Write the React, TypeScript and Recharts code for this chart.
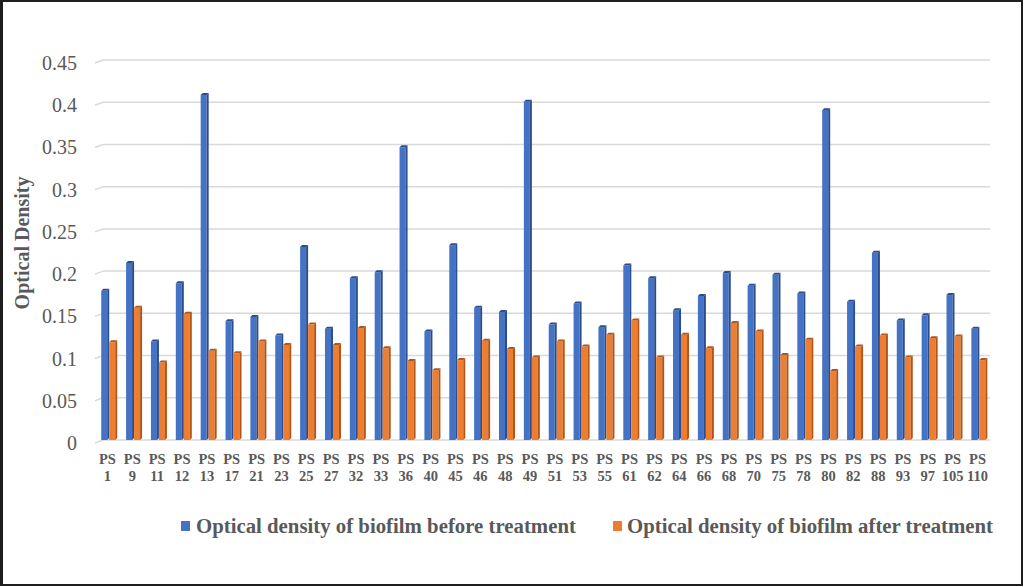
import React from 'react';
import { BarChart, Bar, XAxis, YAxis, CartesianGrid } from 'recharts';

const categories = ['1','9','11','12','13','17','21','23','25','27','32','33','36','40','45','46','48','49','51','53','55','61','62','64','66','68','70','75','78','80','82','88','93','97','105','110'];
const beforeValues = [0.179,0.212,0.119,0.188,0.411,0.143,0.148,0.126,0.231,0.134,0.194,0.201,0.349,0.131,0.233,0.159,0.154,0.403,0.139,0.164,0.136,0.209,0.194,0.156,0.173,0.200,0.185,0.198,0.176,0.393,0.166,0.224,0.144,0.150,0.174,0.134];
const afterValues = [0.118,0.159,0.094,0.152,0.108,0.105,0.119,0.115,0.139,0.115,0.135,0.111,0.096,0.085,0.097,0.120,0.110,0.100,0.119,0.113,0.127,0.144,0.100,0.127,0.111,0.141,0.131,0.103,0.121,0.084,0.113,0.126,0.100,0.123,0.125,0.097];
const yTicks = [0,0.05,0.1,0.15,0.2,0.25,0.3,0.35,0.4,0.45];
const seriesNames = ['Optical density of biofilm before treatment','Optical density of biofilm after treatment'];

const data = categories.map((c, i) => ({ name: 'PS ' + c, num: c, before: beforeValues[i], after: afterValues[i] }));

const FONT = '"Liberation Serif", "Times New Roman", serif';
const BLUE = '#4472C4';
const BLUE_DARK = '#2B4D8C';
const ORANGE = '#ED7D31';
const ORANGE_DARK = '#B0561B';
const GRID = '#D9D9D9';

const make3D = (base: string, dark: string) => (props: any) => {
  const { width, height } = props;
  const x = props.x + 1.5;
  const y = props.y;
  if (height == null || height <= 0) return null;
  const d = 2;
  const fw = width - d;
  return (
    <g>
      <rect x={x} y={y + d} width={fw} height={height - d} fill={base} />
      <polygon points={`${x + fw},${y + d} ${x + width},${y} ${x + width},${y + height - d} ${x + fw},${y + height}`} fill={dark} />
      <polygon points={`${x},${y + d} ${x + d},${y} ${x + width},${y} ${x + fw},${y + d}`} fill={dark} />
    </g>
  );
};

const XTick = (props: any) => {
  const { x, y, payload } = props;
  const item = data[payload.index] || data.find(d => d.name === payload.value);
  const num = item ? item.num : '';
  return (
    <g>
      <text x={x} y={y + 16} textAnchor="middle" fontFamily={FONT} fontSize={14.5} fontWeight="bold" fill="#595959">PS</text>
      <text x={x} y={y + 33} textAnchor="middle" fontFamily={FONT} fontSize={14.5} fontWeight="bold" fill="#595959">{num}</text>
    </g>
  );
};

const YTick = (props: any) => {
  const { x, y, payload } = props;
  return (
    <text x={x} y={y + 3} textAnchor="end" dominantBaseline="central" fontFamily={FONT} fontSize={20} fill="#595959">{payload.value}</text>
  );
};

const GridLine = (p: any) => {
  const s = 8;
  return (
    <g key={`g-${p.y1}`}>
      <line x1={p.x1} y1={p.y1 + 3} x2={p.x1 + s} y2={p.y1} stroke={GRID} strokeWidth={1.5} />
      <line x1={p.x1 + s} y1={p.y1} x2={p.x2} y2={p.y2} stroke={GRID} strokeWidth={1.5} />
    </g>
  );
};

const LegendBox = () => (
  <div style={{ position: 'absolute', left: 0, top: 511, width: 1018, height: 30, fontFamily: FONT, fontWeight: 'bold', fontSize: 20.8, color: '#595959' }}>
    <div style={{ position: 'absolute', left: 178, top: 8, width: 9, height: 10, background: BLUE }} />
    <div style={{ position: 'absolute', left: 193, top: 0, whiteSpace: 'nowrap', lineHeight: '26px' }}>{seriesNames[0]}</div>
    <div style={{ position: 'absolute', left: 610, top: 8, width: 9, height: 10, background: ORANGE }} />
    <div style={{ position: 'absolute', left: 624, top: 0, whiteSpace: 'nowrap', lineHeight: '26px' }}>{seriesNames[1]}</div>
  </div>
);

export default function App() {
  return (
    <div style={{ position: 'absolute', left: 0, top: 0, width: 1023, height: 586, boxSizing: 'border-box', borderTop: '2px solid #1e1e1e', borderBottom: '2px solid #1e1e1e', borderLeft: '3px solid #1e1e1e', borderRight: '2px solid #1e1e1e', background: '#fff' }}>
      <BarChart width={1018} height={582} data={data} margin={{ top: 58, right: 31, left: 0, bottom: 100 }} barCategoryGap="19%" barGap={0}>
        <CartesianGrid vertical={false} horizontal={GridLine} />
        <XAxis dataKey="name" interval={0} axisLine={false} tickLine={false} tick={<XTick />} height={44} />
        <YAxis
          width={92}
          domain={[0, 0.45]}
          ticks={yTicks}
          axisLine={false}
          tickLine={false}
          tickMargin={12}
          tick={<YTick />}
          label={(p: any) => {
            const cx = 19;
            const cy = 241;
            return (
              <text x={cx} y={cy} transform={`rotate(-90 ${cx} ${cy})`} textAnchor="middle" dominantBaseline="central" fontFamily={FONT} fontSize={20} fontWeight="bold" fill="#595959">Optical Density</text>
            );
          }}
        />
        <Bar dataKey="before" name={seriesNames[0]} fill={BLUE} shape={make3D(BLUE, BLUE_DARK)} isAnimationActive={false} />
        <Bar dataKey="after" name={seriesNames[1]} fill={ORANGE} shape={make3D(ORANGE, ORANGE_DARK)} isAnimationActive={false} />
      </BarChart>
      <LegendBox />
    </div>
  );
}
